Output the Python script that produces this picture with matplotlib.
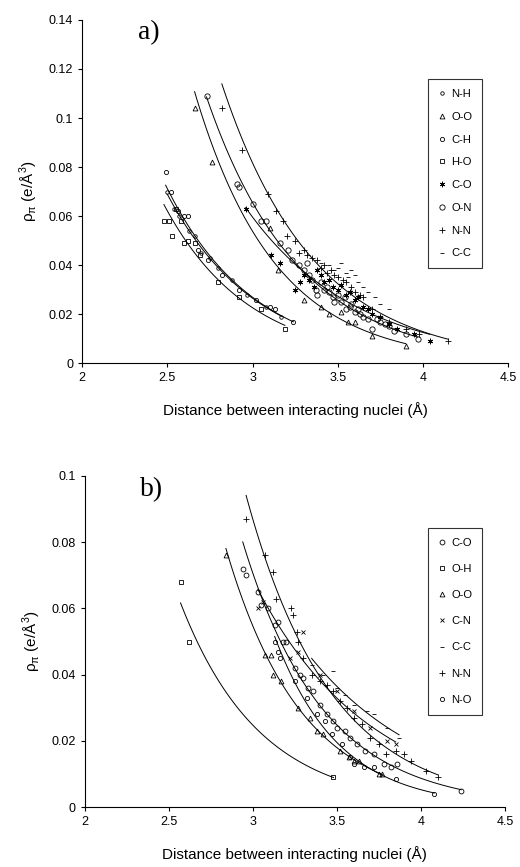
import numpy as np
import matplotlib
matplotlib.use('Agg')
import matplotlib.pyplot as plt
from matplotlib.ticker import FuncFormatter

plt.rcParams['font.family'] = ['Liberation Sans', 'DejaVu Sans']

# ---- panel a) ----
a_nh_x = [2.50, 2.54, 2.57, 2.63, 2.66, 2.70, 2.75, 2.80, 2.88, 2.97, 3.08, 3.17]
a_nh_y = [0.070, 0.063, 0.060, 0.054, 0.052, 0.045, 0.043, 0.039, 0.034, 0.028, 0.023, 0.019]

a_oo_x = [2.66, 2.76, 3.10, 3.15, 3.30, 3.40, 3.45, 3.52, 3.56, 3.60, 3.70, 3.90]
a_oo_y = [0.104, 0.082, 0.055, 0.038, 0.026, 0.023, 0.020, 0.021, 0.017, 0.017, 0.011, 0.007]

a_ch_x = [2.49, 2.52, 2.56, 2.60, 2.62, 2.68, 2.74, 2.82, 2.92, 3.02, 3.10, 3.13, 3.24]
a_ch_y = [0.078, 0.070, 0.062, 0.060, 0.060, 0.046, 0.042, 0.036, 0.030, 0.026, 0.023, 0.022, 0.017]

a_ho_x = [2.48, 2.51, 2.53, 2.55, 2.58, 2.60, 2.62, 2.66, 2.69, 2.80, 2.92, 3.05, 3.19]
a_ho_y = [0.058, 0.058, 0.052, 0.063, 0.058, 0.049, 0.050, 0.049, 0.044, 0.033, 0.027, 0.022, 0.014]

a_co_x = [2.96, 3.11, 3.16, 3.25, 3.28, 3.30, 3.33, 3.36, 3.38, 3.40, 3.42, 3.45, 3.47,
          3.50, 3.52, 3.55, 3.57, 3.60, 3.62, 3.65, 3.68, 3.70, 3.75, 3.80, 3.85, 3.95, 4.04]
a_co_y = [0.063, 0.044, 0.041, 0.030, 0.033, 0.036, 0.034, 0.031, 0.038, 0.036, 0.033, 0.034, 0.031,
          0.030, 0.032, 0.028, 0.029, 0.026, 0.027, 0.023, 0.022, 0.020, 0.019, 0.016, 0.014, 0.012, 0.009]

a_on_x = [2.73, 2.91, 2.92, 3.00, 3.05, 3.08, 3.16, 3.21, 3.23, 3.27, 3.30, 3.32, 3.33, 3.35,
          3.37, 3.38, 3.40, 3.42, 3.44, 3.45, 3.47, 3.48, 3.50, 3.52, 3.54, 3.55, 3.57, 3.58,
          3.60, 3.62, 3.63, 3.65, 3.68, 3.70, 3.73, 3.75, 3.78, 3.80, 3.83, 3.90, 3.97]
a_on_y = [0.109, 0.073, 0.072, 0.065, 0.058, 0.058, 0.049, 0.046, 0.042, 0.040, 0.038, 0.041, 0.036, 0.034,
          0.030, 0.028, 0.033, 0.030, 0.031, 0.029, 0.027, 0.025, 0.028, 0.025, 0.027, 0.022, 0.023, 0.024,
          0.021, 0.022, 0.020, 0.019, 0.018, 0.014, 0.018, 0.017, 0.016, 0.015, 0.013, 0.012, 0.010]

a_nn_x = [2.82, 2.94, 3.09, 3.14, 3.18, 3.20, 3.25, 3.27, 3.30, 3.32, 3.35, 3.38, 3.40, 3.42,
          3.44, 3.46, 3.48, 3.50, 3.53, 3.55, 3.58, 3.60, 3.63, 3.65, 3.70, 3.75, 3.80, 3.90,
          3.98, 4.15]
a_nn_y = [0.104, 0.087, 0.069, 0.062, 0.058, 0.052, 0.050, 0.045, 0.046, 0.044, 0.043, 0.042, 0.039, 0.040,
          0.037, 0.038, 0.036, 0.035, 0.034, 0.033, 0.031, 0.029, 0.028, 0.027, 0.022, 0.019, 0.017, 0.014,
          0.012, 0.009]

a_cc_x = [3.40, 3.45, 3.48, 3.50, 3.52, 3.55, 3.56, 3.58, 3.60, 3.62, 3.65, 3.68, 3.72, 3.75, 3.80]
a_cc_y = [0.041, 0.040, 0.038, 0.039, 0.041, 0.037, 0.035, 0.038, 0.036, 0.033, 0.031, 0.029, 0.027, 0.024, 0.022]

# ---- panel b) ----
b_co_x = [2.94, 2.96, 3.03, 3.05, 3.09, 3.13, 3.15, 3.18, 3.20, 3.25, 3.28, 3.30, 3.33, 3.36,
          3.40, 3.44, 3.48, 3.50, 3.55, 3.58, 3.62, 3.67, 3.72, 3.78, 3.82, 3.86, 4.24]
b_co_y = [0.072, 0.070, 0.065, 0.061, 0.060, 0.055, 0.056, 0.050, 0.050, 0.042, 0.040, 0.039, 0.036, 0.035,
          0.031, 0.028, 0.026, 0.024, 0.023, 0.021, 0.019, 0.017, 0.016, 0.013, 0.012, 0.013, 0.005]

b_oh_x = [2.57, 2.62, 3.48]
b_oh_y = [0.068, 0.050, 0.009]

b_oo_x = [2.84, 3.07, 3.11, 3.12, 3.17, 3.27, 3.34, 3.38, 3.42, 3.52, 3.57, 3.60, 3.63, 3.75, 3.77]
b_oo_y = [0.076, 0.046, 0.046, 0.040, 0.038, 0.030, 0.027, 0.023, 0.022, 0.017, 0.015, 0.014, 0.014, 0.010, 0.010]

b_cn_x = [3.03, 3.06, 3.22, 3.27, 3.30, 3.40, 3.50, 3.60, 3.70, 3.80, 3.85]
b_cn_y = [0.060, 0.062, 0.045, 0.047, 0.053, 0.040, 0.035, 0.029, 0.024, 0.020, 0.019]

b_cc_x = [3.35, 3.42, 3.48, 3.50, 3.55, 3.60, 3.68, 3.72, 3.80, 3.87]
b_cc_y = [0.043, 0.040, 0.041, 0.036, 0.034, 0.031, 0.029, 0.028, 0.024, 0.021]

b_nn_x = [2.96, 3.07, 3.12, 3.14, 3.23, 3.24, 3.26, 3.27, 3.30, 3.35, 3.40, 3.44, 3.48,
          3.52, 3.56, 3.60, 3.65, 3.70, 3.75, 3.79, 3.85, 3.90, 3.94, 4.03, 4.10]
b_nn_y = [0.087, 0.076, 0.071, 0.063, 0.060, 0.058, 0.053, 0.050, 0.045, 0.040, 0.038, 0.037, 0.035,
          0.032, 0.030, 0.027, 0.025, 0.021, 0.019, 0.016, 0.017, 0.016, 0.014, 0.011, 0.009]

b_no_x = [3.13, 3.15, 3.16, 3.25, 3.32, 3.38, 3.43, 3.47, 3.53, 3.58, 3.60, 3.66, 3.72, 3.85, 4.08]
b_no_y = [0.050, 0.047, 0.045, 0.038, 0.033, 0.028, 0.026, 0.022, 0.019, 0.015, 0.013, 0.012, 0.012, 0.0085, 0.004]

marker_kw = dict(color='black', linestyle='none', markerfacecolor='none', markeredgewidth=0.6)


def draw_series(ax, xs, ys, marker, size, label, fit=True):
    ax.plot(xs, ys, marker=marker, markersize=size, label=label, **marker_kw)
    if fit:
        # exponential trend line, like Excel's
        k, b = np.polyfit(xs, np.log(ys), 1)
        xx = np.linspace(min(xs), max(xs), 100)
        ax.plot(xx, np.exp(b + k * xx), color='black', linewidth=0.7)


def style_axes(ax, ymax, ystep):
    ax.set_xlim(2, 4.5)
    ax.set_ylim(0, ymax)
    ax.set_xticks(np.arange(2, 4.51, 0.5))
    ax.set_yticks(np.arange(0, ymax + 1e-9, ystep))
    fmt = FuncFormatter(lambda v, p: '%g' % round(v, 3))
    ax.xaxis.set_major_formatter(fmt)
    ax.yaxis.set_major_formatter(fmt)
    for s in ['top', 'right']:
        ax.spines[s].set_visible(False)
    for s in ['left', 'bottom']:
        ax.spines[s].set_linewidth(0.8)
        ax.spines[s].set_linestyle((0, (4, 1)))
    ax.tick_params(direction='out', length=3, width=0.8, labelsize=9)
    ax.set_xlabel('Distance between interacting nuclei (Å)', fontsize=11, labelpad=13)
    ax.set_ylabel(r'ρ$_{\mathregular{π}}$ (e/Å$^{\mathregular{3}}$)', fontsize=11, labelpad=6)


fig = plt.figure(figsize=(5.2, 8.67), dpi=100)

ax1 = fig.add_axes([0.158, 0.581, 0.819, 0.396])
draw_series(ax1, a_nh_x, a_nh_y, 'o', 2.5, 'N-H')
draw_series(ax1, a_oo_x, a_oo_y, '^', 3.5, 'O-O')
draw_series(ax1, a_ch_x, a_ch_y, 'o', 3.0, 'C-H')
draw_series(ax1, a_ho_x, a_ho_y, 's', 3.5, 'H-O')
draw_series(ax1, a_co_x, a_co_y, (6, 2, 0), 4, 'C-O')
draw_series(ax1, a_on_x, a_on_y, 'o', 3.8, 'O-N')
draw_series(ax1, a_nn_x, a_nn_y, '+', 4, 'N-N')
draw_series(ax1, a_cc_x, a_cc_y, '_', 3.5, 'C-C', fit=False)
style_axes(ax1, 0.14, 0.02)
ax1.text(2.33, 0.135, 'a)', fontsize=20, family='Liberation Serif', va='center')
ax1.legend(loc='upper left', bbox_to_anchor=(0.812, 0.828), fontsize=8, frameon=True,
           fancybox=False, edgecolor='black', labelspacing=1.15, handlelength=0.8,
           handletextpad=0.4, borderpad=0.9, borderaxespad=0).get_frame().set_linewidth(0.8)

ax2 = fig.add_axes([0.163, 0.069, 0.808, 0.382])
draw_series(ax2, b_co_x, b_co_y, 'o', 3.5, 'C-O')
draw_series(ax2, b_oh_x, b_oh_y, 's', 3.5, 'O-H')
draw_series(ax2, b_oo_x, b_oo_y, '^', 3.5, 'O-O')
draw_series(ax2, b_cn_x, b_cn_y, 'x', 3.5, 'C-N')
draw_series(ax2, b_cc_x, b_cc_y, '_', 3.5, 'C-C')
draw_series(ax2, b_nn_x, b_nn_y, '+', 4, 'N-N')
draw_series(ax2, b_no_x, b_no_y, 'o', 3.0, 'N-O')
style_axes(ax2, 0.1, 0.02)
ax2.text(2.33, 0.096, 'b)', fontsize=20, family='Liberation Serif', va='center')
ax2.legend(loc='upper left', bbox_to_anchor=(0.817, 0.843), fontsize=8, frameon=True,
           fancybox=False, edgecolor='black', labelspacing=1.45, handlelength=0.8,
           handletextpad=0.4, borderpad=0.9, borderaxespad=0).get_frame().set_linewidth(0.8)

fig.savefig('out.png', dpi=100)
